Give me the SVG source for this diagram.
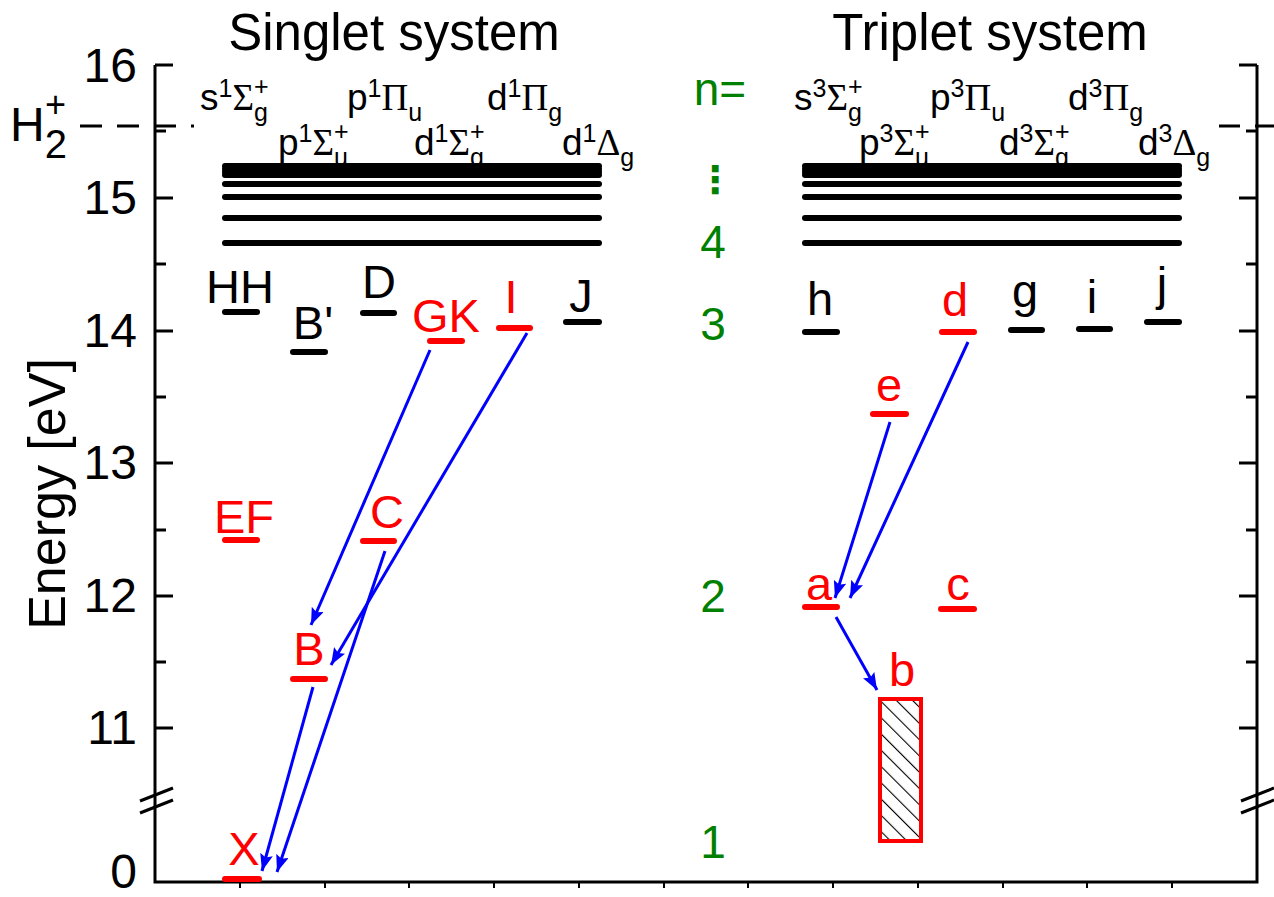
<svg xmlns="http://www.w3.org/2000/svg" width="1274" height="897" viewBox="0 0 1274 897">
<style>
text{font-family:"Liberation Sans",Arial,sans-serif;fill:#000}
.t{font-size:51px;text-anchor:middle}
.tick{font-size:48px;text-anchor:end}
.lbl{font-size:47px;text-anchor:middle}
text.grn{fill:#008000;font-size:46px;text-anchor:middle}
text.dots{fill:#008000;font-family:"DejaVu Sans",sans-serif;font-size:38px;font-weight:bold;text-anchor:middle}
text.r{fill:#FF0000}
.term{font-size:37px}
.gr{font-family:"Liberation Serif","Times New Roman",serif}
.sm{font-size:25px}
.ax{stroke:#000;stroke-width:3;fill:none}
.tk{stroke:#000;stroke-width:3}
.bk{stroke:#000;stroke-width:6;stroke-linecap:round}
.rb{stroke:#FF0000;stroke-width:6;stroke-linecap:round}
.arr{stroke:#0000FF;stroke-width:3;fill:none;marker-end:url(#ah)}
</style>
<defs>
<marker id="ah" markerUnits="userSpaceOnUse" markerWidth="18" markerHeight="13" refX="17" refY="6.5" orient="auto">
<path d="M0,0 L17,6.5 L0,13 L3,6.5 z" fill="#0000FF"/>
</marker>
<pattern id="hatch" width="11.5" height="11.5" patternUnits="userSpaceOnUse" patternTransform="rotate(-45)">
<line x1="0" y1="0" x2="0" y2="11.5" stroke="#000" stroke-width="2.2"/>
</pattern>
</defs>

<g id="titles">
<text class="t" x="394" y="50">Singlet system</text>
<text class="t" x="990" y="50">Triplet system</text>
</g>

<g id="axes">
<path class="ax" d="M155,65 V882 H1257 V65"/>
<g class="tk">
<line x1="155" y1="65" x2="173" y2="65"/><line x1="155" y1="198" x2="173" y2="198"/><line x1="155" y1="331" x2="173" y2="331"/><line x1="155" y1="463" x2="173" y2="463"/><line x1="155" y1="596" x2="173" y2="596"/><line x1="155" y1="728" x2="173" y2="728"/>
<line x1="155" y1="131" x2="166" y2="131"/><line x1="155" y1="264" x2="166" y2="264"/><line x1="155" y1="397" x2="166" y2="397"/><line x1="155" y1="530" x2="166" y2="530"/><line x1="155" y1="662" x2="166" y2="662"/>
<line x1="1257" y1="65" x2="1239" y2="65"/><line x1="1257" y1="198" x2="1239" y2="198"/><line x1="1257" y1="331" x2="1239" y2="331"/><line x1="1257" y1="463" x2="1239" y2="463"/><line x1="1257" y1="596" x2="1239" y2="596"/><line x1="1257" y1="728" x2="1239" y2="728"/>
<line x1="1257" y1="131" x2="1246" y2="131"/><line x1="1257" y1="264" x2="1246" y2="264"/><line x1="1257" y1="397" x2="1246" y2="397"/><line x1="1257" y1="530" x2="1246" y2="530"/><line x1="1257" y1="662" x2="1246" y2="662"/>
</g>
<g stroke="#000" stroke-width="2">
<line x1="240" y1="882" x2="240" y2="888"/><line x1="325" y1="882" x2="325" y2="888"/><line x1="409" y1="882" x2="409" y2="888"/><line x1="494" y1="882" x2="494" y2="888"/><line x1="579" y1="882" x2="579" y2="888"/><line x1="664" y1="882" x2="664" y2="888"/><line x1="748" y1="882" x2="748" y2="888"/><line x1="833" y1="882" x2="833" y2="888"/><line x1="918" y1="882" x2="918" y2="888"/><line x1="1003" y1="882" x2="1003" y2="888"/><line x1="1087" y1="882" x2="1087" y2="888"/><line x1="1172" y1="882" x2="1172" y2="888"/>
</g>
<g stroke="#000" stroke-width="3">
<line x1="140" y1="801" x2="173" y2="788"/><line x1="140" y1="813" x2="173" y2="800"/>
<line x1="1241" y1="801" x2="1274" y2="788"/><line x1="1241" y1="813" x2="1274" y2="800"/>
</g>
<text class="tick" x="137" y="82">16</text>
<text class="tick" x="137" y="214">15</text>
<text class="tick" x="137" y="347">14</text>
<text class="tick" x="137" y="479">13</text>
<text class="tick" x="137" y="612">12</text>
<text class="tick" x="137" y="744">11</text>
<text class="tick" x="137" y="888">0</text>
<text transform="translate(65,494) rotate(-90)" font-size="52" text-anchor="middle">Energy [eV]</text>
</g>

<g id="ion-limit">
<text x="10" y="141" font-size="48">H<tspan font-size="40" dy="17">2</tspan><tspan font-size="36" dx="-22" dy="-41">+</tspan></text>
<line x1="80" y1="126" x2="194" y2="126" stroke="#000" stroke-width="3" stroke-dasharray="22 15"/>
<line x1="1219" y1="126" x2="1274" y2="126" stroke="#000" stroke-width="3" stroke-dasharray="21 15"/>
</g>

<g id="n-labels">
<text class="grn" x="720" y="105">n=</text>
<text class="dots" x="715" y="193">⋮</text>
<text class="grn" x="713" y="258">4</text>
<text class="grn" x="713" y="340">3</text>
<text class="grn" x="713" y="612">2</text>
<text class="grn" x="713" y="858">1</text>
</g>

<g id="singlet-terms">
<text class="term" x="200" y="110">s<tspan class="sm" dy="-13">1</tspan><tspan class="gr" dy="13">Σ</tspan><tspan class="sm" dy="11">g</tspan><tspan class="sm" dx="-13.9" dy="-26">+</tspan></text>
<text class="term" x="278" y="155">p<tspan class="sm" dy="-13">1</tspan><tspan class="gr" dy="13">Σ</tspan><tspan class="sm" dy="11">u</tspan><tspan class="sm" dx="-13.9" dy="-26">+</tspan></text>
<text class="term" x="347" y="110">p<tspan class="sm" dy="-13">1</tspan><tspan class="gr" dy="13">Π</tspan><tspan class="sm" dy="11">u</tspan></text>
<text class="term" x="414" y="155">d<tspan class="sm" dy="-13">1</tspan><tspan class="gr" dy="13">Σ</tspan><tspan class="sm" dy="11">g</tspan><tspan class="sm" dx="-13.9" dy="-26">+</tspan></text>
<text class="term" x="487" y="110">d<tspan class="sm" dy="-13">1</tspan><tspan class="gr" dy="13">Π</tspan><tspan class="sm" dy="11">g</tspan></text>
<text class="term" x="562" y="155">d<tspan class="sm" dy="-13">1</tspan><tspan class="gr" dy="13">Δ</tspan><tspan class="sm" dy="11">g</tspan></text>
</g>
<g id="triplet-terms">
<text class="term" x="794" y="110">s<tspan class="sm" dy="-13">3</tspan><tspan class="gr" dy="13">Σ</tspan><tspan class="sm" dy="11">g</tspan><tspan class="sm" dx="-13.9" dy="-26">+</tspan></text>
<text class="term" x="859" y="155">p<tspan class="sm" dy="-13">3</tspan><tspan class="gr" dy="13">Σ</tspan><tspan class="sm" dy="11">u</tspan><tspan class="sm" dx="-13.9" dy="-26">+</tspan></text>
<text class="term" x="930" y="110">p<tspan class="sm" dy="-13">3</tspan><tspan class="gr" dy="13">Π</tspan><tspan class="sm" dy="11">u</tspan></text>
<text class="term" x="999" y="155">d<tspan class="sm" dy="-13">3</tspan><tspan class="gr" dy="13">Σ</tspan><tspan class="sm" dy="11">g</tspan><tspan class="sm" dx="-13.9" dy="-26">+</tspan></text>
<text class="term" x="1068" y="110">d<tspan class="sm" dy="-13">3</tspan><tspan class="gr" dy="13">Π</tspan><tspan class="sm" dy="11">g</tspan></text>
<text class="term" x="1138" y="155">d<tspan class="sm" dy="-13">3</tspan><tspan class="gr" dy="13">Δ</tspan><tspan class="sm" dy="11">g</tspan></text>
</g>

<g id="singlet-continuum" class="bk">
<line x1="225" y1="166" x2="599" y2="166"/><line x1="225" y1="169" x2="599" y2="169"/><line x1="225" y1="172" x2="599" y2="172"/><line x1="225" y1="175" x2="599" y2="175"/>
<line x1="225" y1="184" x2="599" y2="184"/><line x1="225" y1="197" x2="599" y2="197"/><line x1="225" y1="218" x2="599" y2="218"/><line x1="225" y1="243" x2="599" y2="243"/>
</g>
<g id="triplet-continuum" class="bk">
<line x1="805" y1="166" x2="1179" y2="166"/><line x1="805" y1="169" x2="1179" y2="169"/><line x1="805" y1="172" x2="1179" y2="172"/><line x1="805" y1="175" x2="1179" y2="175"/>
<line x1="805" y1="184" x2="1179" y2="184"/><line x1="805" y1="197" x2="1179" y2="197"/><line x1="805" y1="218" x2="1179" y2="218"/><line x1="805" y1="243" x2="1179" y2="243"/>
</g>

<g id="HH"><line class="bk" x1="225" y1="312" x2="257" y2="312"/><text class="lbl" x="240" y="303">HH</text></g>
<g id="Bprime"><line class="bk" x1="293" y1="352" x2="325" y2="352"/><text class="lbl" x="313" y="339">B'</text></g>
<g id="D"><line class="bk" x1="363" y1="313" x2="394" y2="313"/><text class="lbl" x="379" y="298">D</text></g>
<g id="GK"><line class="rb" x1="430" y1="341" x2="462" y2="341"/><text class="lbl r" x="446" y="332">GK</text></g>
<g id="I"><line class="rb" x1="499" y1="328" x2="530" y2="328"/><text class="lbl r" x="511" y="313">I</text></g>
<g id="J"><line class="bk" x1="566" y1="322" x2="599" y2="322"/><text class="lbl" x="581" y="312">J</text></g>
<g id="EF"><line class="rb" x1="225" y1="540" x2="257" y2="540"/><text class="lbl r" x="244" y="533">EF</text></g>
<g id="C"><line class="rb" x1="363" y1="541" x2="394" y2="541"/><text class="lbl r" x="387" y="528">C</text></g>
<g id="B"><line class="rb" x1="293" y1="679" x2="325" y2="679"/><text class="lbl r" x="309" y="665">B</text></g>
<g id="X"><line class="rb" x1="225" y1="879" x2="259" y2="879"/><text class="lbl r" x="244" y="865">X</text></g>

<g id="h"><line class="bk" x1="805" y1="332" x2="837" y2="332"/><text class="lbl" x="820" y="315">h</text></g>
<g id="d"><line class="rb" x1="942" y1="332" x2="974" y2="332"/><text class="lbl r" x="955" y="316">d</text></g>
<g id="g"><line class="bk" x1="1011" y1="330" x2="1042" y2="330"/><text class="lbl" x="1025" y="307">g</text></g>
<g id="i"><line class="bk" x1="1079" y1="329" x2="1110" y2="329"/><text class="lbl" x="1092" y="313">i</text></g>
<g id="j"><line class="bk" x1="1147" y1="322" x2="1179" y2="322"/><text class="lbl" x="1162" y="300">j</text></g>
<g id="e"><line class="rb" x1="873" y1="414" x2="906" y2="414"/><text class="lbl r" x="889" y="401">e</text></g>
<g id="a"><line class="rb" x1="805" y1="607" x2="837" y2="607"/><text class="lbl r" x="819" y="600">a</text></g>
<g id="c"><line class="rb" x1="941" y1="609" x2="974" y2="609"/><text class="lbl r" x="958" y="600">c</text></g>
<g id="b"><rect x="880" y="699" width="41" height="142" fill="#fff"/><rect x="880" y="699" width="41" height="142" fill="url(#hatch)" stroke="#FF0000" stroke-width="4"/><text class="lbl r" x="902" y="686">b</text></g>

<g id="connectors">
<line class="arr" x1="430" y1="350" x2="311" y2="625"/>
<line class="arr" x1="527" y1="333" x2="331" y2="665"/>
<line class="arr" x1="385" y1="551" x2="277" y2="872"/>
<line class="arr" x1="313" y1="687" x2="262" y2="871"/>
<line class="arr" x1="890" y1="422" x2="835" y2="598"/>
<line class="arr" x1="968" y1="342" x2="850" y2="598"/>
<line class="arr" x1="836" y1="617" x2="877" y2="690"/>
</g>
</svg>
